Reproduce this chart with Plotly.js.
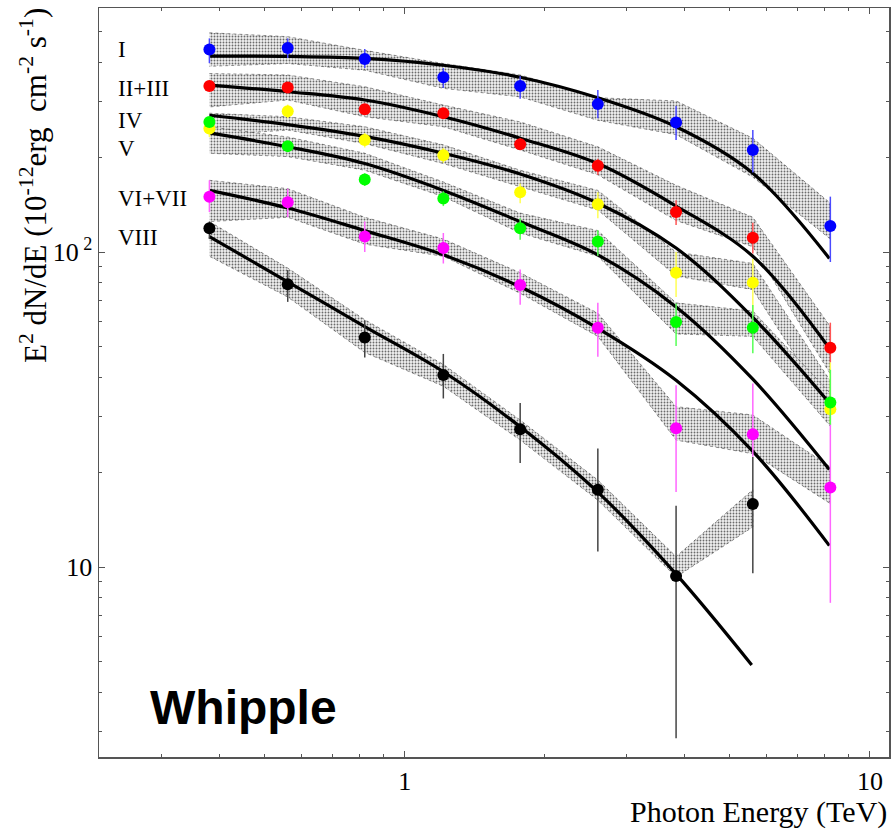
<!DOCTYPE html>
<html>
<head>
<meta charset="utf-8">
<script src="https://cdn.plot.ly/plotly-3.0.1.min.js"></script>
<style>html,body{margin:0;padding:0;background:#fff;}#chart{width:891px;height:829px;}</style>
</head>
<body>
<div id="chart"></div>
<script>
// ---- data ----
const energy      = [0.38, 0.56, 0.82, 1.21, 1.77, 2.6, 3.83, 5.6, 8.22];
const energyVIII  = [0.38, 0.56, 0.82, 1.21, 1.77, 2.6, 3.83, 5.6];

const fluxI      = [440, 445, 410, 359, 337, 295, 258, 211, 121];
const errUpI     = [37, 32, 31, 25, 25, 32, 33, 33, 29];
const errDnI     = [42, 32, 26, 27, 30, 29, 31, 32, 28];

const fluxII     = [337, 333, 284, 276, 220, 188, 134, 111, 49.7];
const errUpII    = [12, 11, 10, 10, 10, 10, 12, 13, 10];
const errDnII    = [11, 10, 9, 9, 9, 12, 12, 12, 5];

const fluxIV     = [259, 217, 170, 148, 119, 108, 60, 57.5, 33.3];
const errUpIV    = [8, 8, 8, 8, 9, 9.4, 8.7, 10.4, 9];
const errDnIV    = [8, 8, 8, 8, 9.5, 10.6, 9.7, 9.8, 5];

const fluxV      = [247, 280, 227, 203, 155, 142, 86, 80, 31.7];
const errUpV     = [15, 14, 12, 11, 10, 13, 14, 15, 13];
const errDnV     = [15, 14, 12, 11, 12, 14, 14, 16, 3];

const fluxVI     = [150, 144, 112, 103, 78.6, 57.5, 27.6, 26.4, 17.9];
const errUpVI    = [19, 15, 13, 12, 9.4, 11.5, 10.2, 11.9, 10.8];
const errDnVI    = [16, 15, 12, 11, 10.6, 11, 10.3, 4, 10.2];

const fluxVIII   = [119, 79.1, 53.6, 40.7, 27.4, 17.6, 9.36, 15.85];
const errUpVIII  = [6, 8.6, 7.2, 6.8, 5.8, 6.2, 6.3, 6.5];
const errDnVIII  = [9, 9.6, 7.3, 6.4, 6, 6.4, 6.5, 6.3];

// fitted curves
const curveE      = [0.38, 0.56, 0.82, 1.21, 1.77, 2.6, 3.83, 5.6, 8.18];
const curveEVIII  = [0.38, 0.56, 0.82, 1.21, 1.77, 2.6, 3.83, 5.57];
const fitI    = [419, 418, 412, 392, 359, 309, 250, 178, 95.5];
const fitII   = [339, 323, 304, 269, 230, 191, 140, 97, 49.5];
const fitIV   = [272, 254, 233, 206, 177, 143, 103, 62, 33.2];
const fitV    = [239, 216, 191, 157, 125, 98, 67, 39.5, 20.4];
const fitVI   = [157, 138, 117, 98, 77.6, 57.3, 39.2, 23.3, 11.7];
const fitVIII = [112, 80.5, 58, 41.7, 27.9, 17.3, 9.5, 4.89];

// shaded error bands (upper / lower edges at each energy)
const bandUpI    = [497, 483, 437, 397, 365, 309, 302, 230, 143];
const bandLoI    = [389, 397, 378, 331, 311, 262, 236, 173, 110];
const bandUpII   = [369, 365, 335, 293, 259, 216, 163, 129, 58];
const bandLoII   = [289, 304, 269, 250, 211, 176, 126, 104, 41];
const bandUpIV   = [276, 269, 250, 219, 182, 157, 100, 92, 39];
const bandLoIV   = [235, 244, 221, 191, 161, 136, 84, 76, 31.5];
const bandUpV    = [250, 232, 206, 167, 133, 117, 69, 65, 35.6];
const bandLoV    = [206, 201, 182, 150, 115, 97, 55, 54, 28];
const bandUpVI   = [169, 159, 129, 110, 86, 64, 32.3, 30.4, 20.8];
const bandLoVI   = [125, 129, 106, 97, 74, 54, 25.3, 22.9, 15.9];
const bandUpVIII = [125, 89, 61, 44, 29.3, 18.9, 10.8, 17.6];
const bandLoVIII = [97, 72, 48, 37.5, 25.3, 16.3, 9.3, 13.4];

const groupLabels = ['I', 'II+III', 'IV', 'V', 'VI+VII', 'VIII'];
const xTickVals = [1, 10];
const xTickText = ['1', '10'];
const yTickVals = [10, 100];
const yTickText = ['10', '10<sup> 2</sup>'];
const xMinor = [0.3, 0.4, 0.5, 0.6, 0.7, 0.8, 0.9, 2, 3, 4, 5, 6, 7, 8, 9];
const yMinor = [3, 4, 5, 6, 7, 8, 9, 20, 30, 40, 50, 60, 70, 80, 90, 200, 300, 400, 500];

// ---- build traces ----
const traces = [];
function band(x, up, lo) {
  traces.push({
    type: 'scatter', mode: 'lines', hoverinfo: 'skip',
    x: x.concat(x.slice().reverse()),
    y: up.concat(lo.slice().reverse()),
    fill: 'toself',
    fillcolor: 'rgba(0,0,0,0)',
    fillpattern: {shape: '.', size: 3, solidity: 0.3, fgcolor: '#6a6a6a', bgcolor: '#f0f0f0'},
    line: {color: 'rgba(40,40,40,0.5)', width: 1, dash: 'dot'}
  });
}
band(energy, bandUpI, bandLoI);
band(energy, bandUpII, bandLoII);
band(energy, bandUpIV, bandLoIV);
band(energy, bandUpV, bandLoV);
band(energy, bandUpVI, bandLoVI);
band(energyVIII, bandUpVIII, bandLoVIII);

function fit(x, y) {
  traces.push({type: 'scatter', mode: 'lines', x: x, y: y,
    line: {color: '#000', width: 3.2, shape: 'spline', smoothing: 1}, hoverinfo: 'skip'});
}
fit(curveE, fitI); fit(curveE, fitII); fit(curveE, fitIV);
fit(curveE, fitV); fit(curveE, fitVI); fit(curveEVIII, fitVIII);

function pts(x, y, up, dn, color, barColor) {
  traces.push({type: 'scatter', mode: 'markers', x: x, y: y,
    marker: {color: color, size: 12, line: {width: 0}},
    error_y: {type: 'data', symmetric: false, array: up, arrayminus: dn,
      color: barColor, thickness: 1.5, width: 0}});
}
pts(energy, fluxVI, errUpVI, errDnVI, '#ff00ff', '#ff66ff');
pts(energy, fluxV, errUpV, errDnV, '#ffff00', '#ffff55');
pts(energy, fluxIV, errUpIV, errDnIV, '#00ff00', '#55ff55');
pts(energy, fluxII, errUpII, errDnII, '#ff0000', '#ff5555');
pts(energy, fluxI, errUpI, errDnI, '#0000ff', '#4a4aff');
pts(energyVIII, fluxVIII, errUpVIII, errDnVIII, '#000000', '#444444');

const serif = 'Liberation Serif, Times New Roman, serif';
const labelY = [0.945, 0.893, 0.850, 0.813, 0.745, 0.694];
const annotations = groupLabels.map((t, i) => ({
  text: t, xref: 'paper', yref: 'paper', x: 0.022, y: labelY[i],
  xanchor: 'left', yanchor: 'middle', showarrow: false,
  font: {family: serif, size: 23, color: '#000'}
}));
annotations.push({
  text: 'Whipple', xref: 'paper', yref: 'paper', x: 0.062, y: 0.066,
  xanchor: 'left', yanchor: 'middle', showarrow: false,
  font: {family: 'Liberation Sans, Arial, sans-serif', size: 48, color: '#000', weight: 'bold'}
});
annotations.push({
  text: 'Photon Energy (TeV)', xref: 'paper', yref: 'paper', x: 1.0, y: -0.073,
  xanchor: 'right', yanchor: 'middle', showarrow: false,
  font: {family: serif, size: 30, color: '#000'}
});
annotations.push({
  text: 'E<sup>2</sup> dN/dE (10<sup>-12</sup>erg  cm<sup>-2</sup> s<sup>-1</sup>)',
  xref: 'paper', yref: 'paper', x: -0.083, y: 0.763, textangle: -90,
  xanchor: 'center', yanchor: 'middle', showarrow: false,
  font: {family: serif, size: 31, color: '#000'}
});

const axisCommon = {
  type: 'log', showgrid: false, zeroline: false,
  showline: true, linecolor: '#555', linewidth: 1.5, mirror: 'allticks',
  ticks: 'inside', ticklen: 6, tickwidth: 1, tickcolor: '#555',
  tickfont: {family: serif, size: 26, color: '#000'}
};

const layout = {
  width: 891, height: 829,
  margin: {l: 99, r: 2, t: 8, b: 72},
  paper_bgcolor: '#fff', plot_bgcolor: '#fff',
  showlegend: false,
  xaxis: Object.assign({}, axisCommon, {
    range: [Math.log10(0.22), Math.log10(10.99)],
    tickmode: 'array', tickvals: xTickVals, ticktext: xTickText,
    minor: {tickmode: 'array', tickvals: xMinor, ticks: 'inside', ticklen: 3, tickcolor: '#555', tickwidth: 1}
  }),
  yaxis: Object.assign({}, axisCommon, {
    range: [0.397, 2.775],
    tickmode: 'array', tickvals: yTickVals, ticktext: yTickText,
    minor: {tickmode: 'array', tickvals: yMinor, ticks: 'inside', ticklen: 3, tickcolor: '#555', tickwidth: 1}
  }),
  annotations: annotations
};

Plotly.newPlot('chart', traces, layout, {displayModeBar: false, staticPlot: true});
</script>
</body>
</html>
